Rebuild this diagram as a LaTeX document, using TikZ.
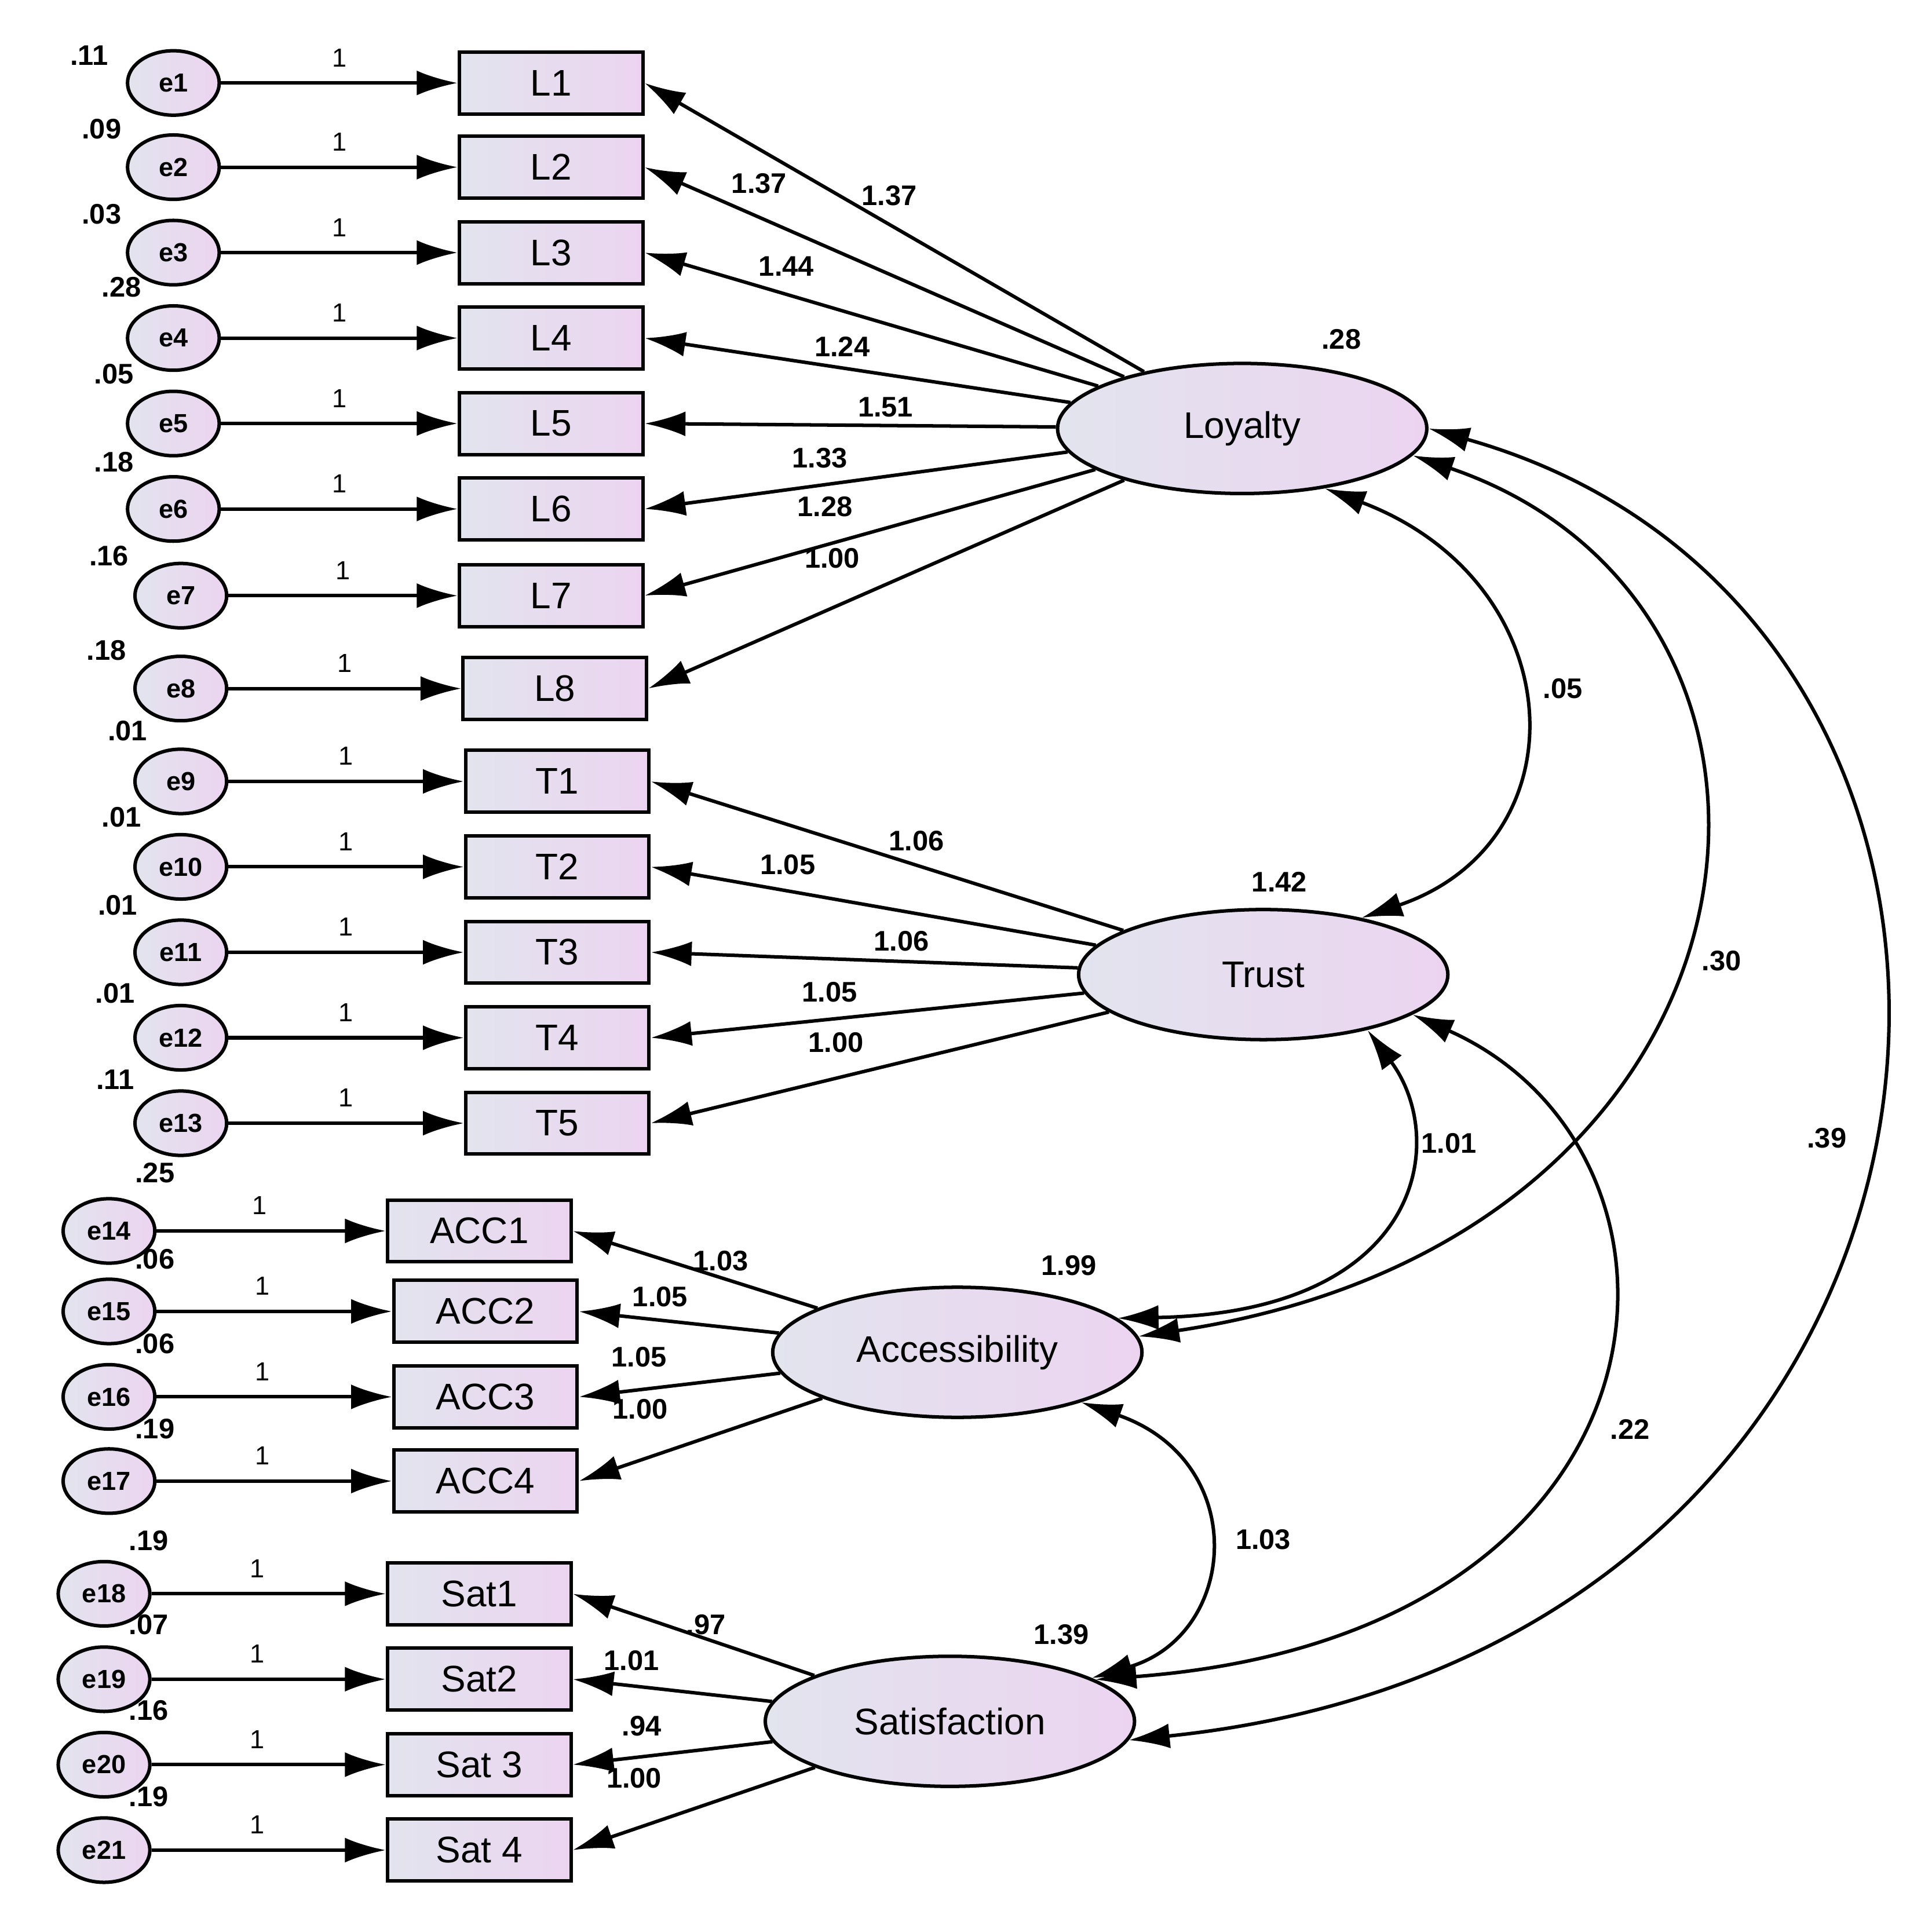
\documentclass[tikz,border=0pt]{standalone}
\usepackage{fontspec}
\setmainfont{Liberation Sans}
\usetikzlibrary{arrows.meta, positioning, shapes}
\definecolor{gleft}{RGB}{226,228,238}
\definecolor{gright}{RGB}{236,212,240}
\tikzset{
    errnode/.style={ellipse, draw, thick, minimum width=0.74cm, minimum height=0.52cm, inner sep=0pt, left color=gleft, right color=gright, font=\fontsize{6}{7}\selectfont\bfseries},
    item/.style={rectangle, draw, thick, minimum width=1.48cm, minimum height=0.5cm, left color=gleft, right color=gright, font=\fontsize{8.5}{9}\selectfont},
    latent/.style={ellipse, draw, thick, minimum width=2.98cm, minimum height=1.05cm, left color=gleft, right color=gright, font=\fontsize{8.5}{9}\selectfont},
    arrow/.style={-{Latex[length=3.3mm,width=2mm]}, thick},
    cov/.style={{Latex[length=3.3mm,width=2mm]}-{Latex[length=3.3mm,width=2mm]}, thick},
    est/.style={font=\fontsize{6.5}{7}\selectfont\bfseries},
    one/.style={font=\fontsize{6}{7}\selectfont}
}
\begin{document}
\begin{tikzpicture}[x=0.01cm, y=-0.01cm]
    \useasboundingbox (0,0) rectangle (1560,1552);

    % Latent variables
    \node[latent] (loy) at (1003,346) {Loyalty};
    \node[latent] (tru) at (1020,787) {Trust};
    \node[latent] (acc) at (773,1092) {Accessibility};
    \node[latent] (sat) at (767,1390) {Satisfaction};
    \node[est] at (1083,274) {.28};
    \node[est] at (1033,712) {1.42};
    \node[est] at (863,1022) {1.99};
    \node[est] at (857,1320) {1.39};

    % Loyalty items
    \foreach \i/\y/\ex/\bx/\v/\vx/\vy/\w/\wx/\wy in {
        1/67/140/445/.11/72/45/1.37/718/158,
        2/135/140/445/.09/82/104/1.37/613/148,
        3/204/140/445/.03/82/173/1.44/635/215,
        4/273/140/445/.28/98/232/1.24/680/280,
        5/342/140/445/.05/92/302/1.51/715/329,
        6/411/140/445/.18/92/373/1.33/662/370,
        7/481/146/445/.16/88/449/1.28/666/409,
        8/556/146/448/.18/86/525/1.00/672/451}{
        \node[errnode] (e\i) at (\ex,\y) {e\i};
        \node[item] (l\i) at (\bx,\y) {L\i};
        \node[est] at (\vx,\vy) {\v};
        \draw[arrow] (e\i) -- node[above, one, pos=0.5] {1} (l\i);
        \draw[arrow] (loy) -- (l\i.east);
        \node[est] at (\wx,\wy) {\w};
    }

    % Trust items
    \foreach \i/\n/\y/\v/\vx/\vy/\w/\wx/\wy in {
        1/9/631/.01/103/590/1.06/740/679,
        2/10/700/.01/98/660/1.05/636/698,
        3/11/769/.01/95/731/1.06/728/760,
        4/12/838/.01/93/802/1.05/670/801,
        5/13/907/.11/93/872/1.00/675/842}{
        \node[errnode] (e\n) at (146,\y) {e\n};
        \node[item] (t\i) at (450,\y) {T\i};
        \node[est] at (\vx,\vy) {\v};
        \draw[arrow] (e\n) -- node[above, one, pos=0.5] {1} (t\i);
        \draw[arrow] (tru) -- (t\i.east);
        \node[est] at (\wx,\wy) {\w};
    }

    % Accessibility items
    \foreach \i/\n/\y/\bx/\v/\vy/\w/\wx/\wy in {
        1/14/994/387/.25/947/1.03/582/1018,
        2/15/1059/392/.06/1017/1.05/533/1047,
        3/16/1128/392/.06/1085/1.05/516/1096,
        4/17/1196/392/.19/1154/1.00/517/1138}{
        \node[errnode] (e\n) at (88,\y) {e\n};
        \node[item] (a\i) at (\bx,\y) {ACC\i};
        \node[est] at (125,\vy) {\v};
        \draw[arrow] (e\n) -- node[above, one, pos=0.45] {1} (a\i);
        \draw[arrow] (acc) -- (a\i.east);
        \node[est] at (\wx,\wy) {\w};
    }

    % Satisfaction items
    \foreach \i/\n/\y/\t/\v/\vy/\w/\wx/\wy in {
        1/18/1287/Sat1/.19/1244/.97/570/1312,
        2/19/1356/Sat2/.07/1312/1.01/510/1341,
        3/20/1425/Sat 3/.16/1381/.94/518/1394,
        4/21/1494/Sat 4/.19/1451/1.00/512/1436}{
        \node[errnode] (e\n) at (84,\y) {e\n};
        \node[item] (s\i) at (387,\y) {\t};
        \node[est] at (120,\vy) {\v};
        \draw[arrow] (e\n) -- node[above, one, pos=0.45] {1} (s\i);
        \draw[arrow] (sat) -- (s\i.east);
        \node[est] at (\wx,\wy) {\w};
    }

    % Covariances
    \draw[cov] (loy.-36) .. controls (1270,470) and (1280,680) .. (tru.30);
    \draw[cov] (loy.-9) .. controls (1500,490) and (1450,1000) .. (acc.5);
    \draw[cov] (loy.east) .. controls (1700,500) and (1640,1330) .. (sat.-6);
    \draw[cov] (tru.-28) .. controls (1170,920) and (1150,1060) .. (acc.12);
    \draw[cov] (tru.-15) .. controls (1390,930) and (1370,1320) .. (sat.16);
    \draw[cov] (acc.-22) .. controls (1010,1180) and (1000,1320) .. (sat.17);
    \node[est] at (1262,556) {.05};
    \node[est] at (1390,776) {.30};
    \node[est] at (1475,919) {.39};
    \node[est] at (1170,923) {1.01};
    \node[est] at (1316,1154) {.22};
    \node[est] at (1020,1243) {1.03};
\end{tikzpicture}
\end{document}
